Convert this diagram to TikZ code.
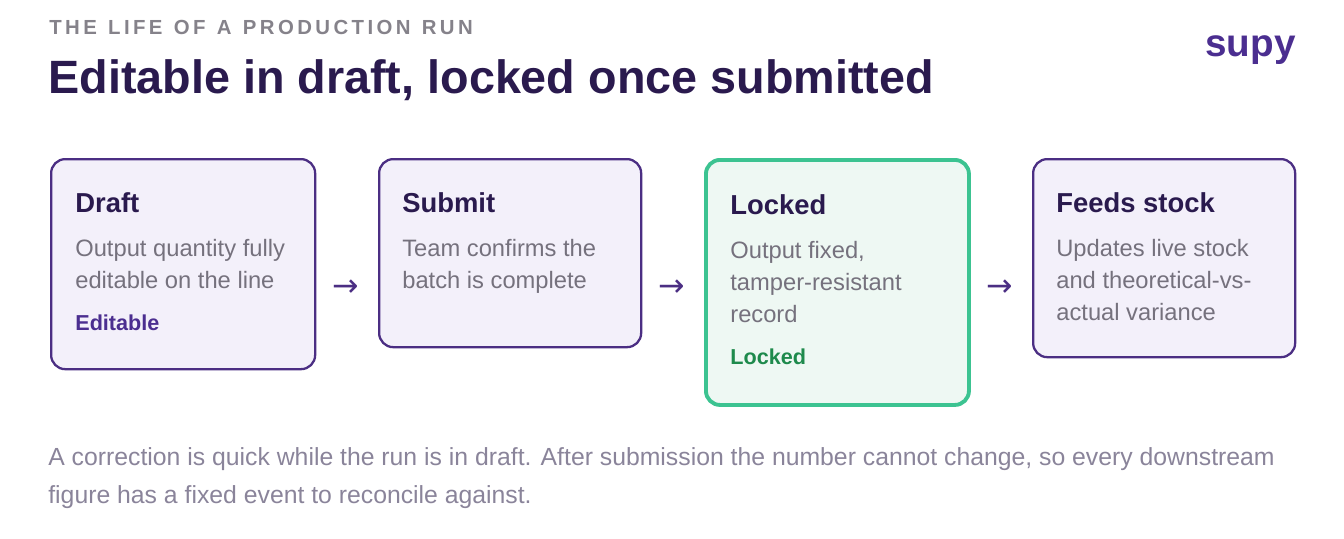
\documentclass[tikz,border=0pt]{standalone}
\usepackage{fontspec}
\setmainfont{Liberation Sans}
\newfontfamily\arrowfont{DejaVu Sans}
\usetikzlibrary{positioning}
\definecolor{inkpurple}{HTML}{2A1A4E}
\definecolor{edgepurple}{HTML}{4B2E83}
\definecolor{fillpurple}{HTML}{F3F0FA}
\definecolor{edgegreen}{HTML}{3CC391}
\definecolor{fillgreen}{HTML}{EEF8F3}
\definecolor{tagpurple}{HTML}{4B2E90}
\definecolor{taggreen}{HTML}{1E8A4C}
\definecolor{bodygray}{HTML}{75717D}
\definecolor{footgray}{HTML}{8A849A}
\definecolor{headgray}{HTML}{85828A}
\begin{document}
\begin{tikzpicture}[x=0.02cm,y=-0.02cm,
    stage/.style={draw=edgepurple,fill=fillpurple,line width=1.3pt,rounded corners=8pt,anchor=north west},
    lockedstage/.style={stage,draw=edgegreen,fill=fillgreen,line width=2.2pt},
    stitle/.style={anchor=north west,font=\fontsize{15.6}{18}\selectfont\bfseries,text=inkpurple,inner sep=0pt},
    sbody/.style={anchor=north west,align=left,font=\fontsize{13.5}{18.2}\selectfont,text=bodygray,inner sep=0pt},
    stag/.style={anchor=north west,font=\fontsize{12.3}{14}\selectfont\bfseries,inner sep=0pt},
    flowarrow/.style={font=\arrowfont\fontsize{18}{18}\selectfont,text=edgepurple,inner sep=0pt}]
  \useasboundingbox (0,0) rectangle (1344,538);
  % header
  \node[anchor=west,inner sep=0pt,text=headgray,font=\fontsize{11.6}{13}\selectfont\bfseries] (kicker) at (49,27)
    {T\,H\,E\ \ L\,I\,F\,E\ \ O\,F\ \ A\ \ P\,R\,O\,D\,U\,C\,T\,I\,O\,N\ \ R\,U\,N};
  \node[anchor=west,inner sep=0pt,text=inkpurple,font=\fontsize{26.6}{30}\selectfont\bfseries] (title) at (48,80)
    {Editable in draft, locked once submitted};
  \node[anchor=east,inner sep=0pt,text=tagpurple,font=\fontsize{22}{24}\selectfont\bfseries] (logo) at (1296,50) {supy};
  % stages
  \node[stage,minimum width=264*0.02cm,minimum height=210*0.02cm] (draft) at (50,158) {};
  \node[stage,minimum width=262*0.02cm,minimum height=188*0.02cm] (submit) at (378,158) {};
  \node[lockedstage,minimum width=263*0.02cm,minimum height=245*0.02cm] (locked) at (704,158) {};
  \node[stage,minimum width=262*0.02cm,minimum height=198*0.02cm] (feeds) at (1032,158) {};

  \node[stitle] (draftT) at (75,192) {Draft};
  \node[sbody] (draftB) at (75,239) {Output quantity fully\\editable on the line};
  \node[stag,text=tagpurple] (draftG) at (75,314) {Editable};

  \node[stitle] (submitT) at (402,192) {Submit};
  \node[sbody] (submitB) at (402,239) {Team confirms the\\batch is complete};

  \node[stitle] (lockedT) at (730,194) {Locked};
  \node[sbody] (lockedB) at (730,241) {Output fixed,\\tamper-resistant\\record};
  \node[stag,text=taggreen] (lockedG) at (730,348) {Locked};

  \node[stitle] (feedsT) at (1056,192) {Feeds stock};
  \node[sbody] (feedsB) at (1056,239) {Updates live stock\\and theoretical-vs-\\actual variance};

  % arrows between stages
  \node[flowarrow] (a1) at (346,288) {→};
  \node[flowarrow] (a2) at (672,288) {→};
  \node[flowarrow] (a3) at (1000,288) {→};
  % footer
  \node[anchor=north west,align=left,inner sep=0pt,text=footgray,font=\fontsize{14.1}{21.8}\selectfont] (note) at (48,447)
    {A correction is quick while the run is in draft. After submission the number cannot change, so every downstream\\figure has a fixed event to reconcile against.};
\end{tikzpicture}
\end{document}
